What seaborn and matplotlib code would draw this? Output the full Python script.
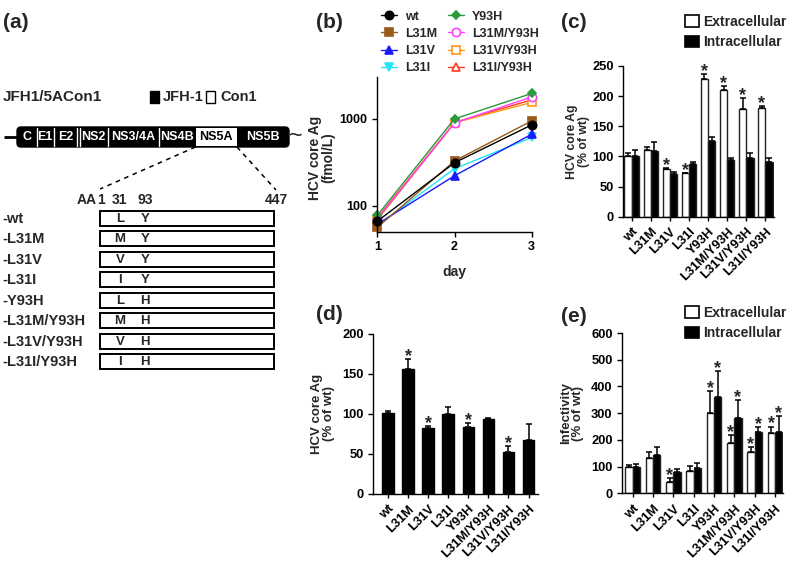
import numpy as np
import pandas as pd
import matplotlib
matplotlib.use('Agg')
import matplotlib.pyplot as plt
import seaborn as sns
from matplotlib.patches import Rectangle, FancyBboxPatch, Patch

# ---------------- data ----------------
variants = ['wt', 'L31M', 'L31V', 'L31I', 'Y93H', 'L31M/Y93H', 'L31V/Y93H', 'L31I/Y93H']

# (a) construct schematic
genome_regions = ['C', 'E1', 'E2', 'NS2', 'NS3/4A', 'NS4B', 'NS5A', 'NS5B']
residue_31 = ['L', 'M', 'V', 'I', 'L', 'M', 'V', 'I']
residue_93 = ['Y', 'Y', 'Y', 'Y', 'H', 'H', 'H', 'H']
aa_labels = ['1', '31', '93', '447']

# (b) HCV core Ag time course (fmol/L)
days = [1, 2, 3]
b_wt = [66, 310, 845]
b_L31M = [56, 325, 940]
b_L31V = [61, 220, 660]
b_L31I = [59, 265, 605]
b_Y93H = [77, 990, 1940]
b_L31M_Y93H = [70, 890, 1770]
b_L31V_Y93H = [68, 895, 1530]
b_L31I_Y93H = [72, 900, 1640]

# (c) HCV core Ag (% of wt)
c_ext = [101, 111, 79, 72, 229, 211, 179, 181]
c_ext_err = [4, 4, 1, 1, 8, 5, 18, 2]
c_int = [100, 109, 71, 88, 126, 94, 98, 90]
c_int_err = [10, 15, 3, 2, 6, 4, 7, 8]
c_ext_sig = [0, 0, 1, 1, 1, 1, 1, 1]
c_int_sig = [0, 0, 0, 0, 0, 0, 0, 0]

# (d) HCV core Ag (% of wt)
d_val = [101, 156, 82, 100, 84, 93, 52, 67]
d_err = [3, 12, 3, 8, 5, 2, 8, 20]
d_sig = [0, 1, 1, 0, 1, 0, 1, 0]

# (e) Infectivity (% of wt)
e_ext = [99, 133, 41, 84, 302, 187, 156, 224]
e_ext_err = [7, 23, 15, 19, 80, 32, 17, 26]
e_int = [99, 144, 80, 96, 362, 283, 231, 231]
e_int_err = [12, 30, 11, 16, 94, 66, 16, 57]
e_ext_sig = [0, 0, 1, 0, 1, 1, 1, 1]
e_int_sig = [0, 0, 0, 0, 1, 1, 1, 1]

# ---------------- style ----------------
sns.set_theme(style='ticks')
plt.rcParams['font.family'] = ['Liberation Sans', 'DejaVu Sans']
plt.rcParams['font.weight'] = 'bold'
plt.rcParams['axes.labelweight'] = 'bold'
plt.rcParams['axes.linewidth'] = 1.0
plt.rcParams['xtick.major.width'] = 1.0
plt.rcParams['ytick.major.width'] = 1.0
plt.rcParams['xtick.major.size'] = 3.5
plt.rcParams['ytick.major.size'] = 3.5
plt.rcParams['axes.edgecolor'] = 'black'
plt.rcParams['xtick.color'] = 'black'
plt.rcParams['ytick.color'] = 'black'

W, H = 787, 562
fig = plt.figure(figsize=(W / 100, H / 100), dpi=100)


def px_axes(l, t, r, b):
    return fig.add_axes([l / W, 1 - b / H, (r - l) / W, (b - t) / H])


def fig_xy(x, y):
    return (x / W, 1 - y / H)


# ---------------- (a) schematic ----------------
ax0 = fig.add_axes([0, 0, 1, 1])
ax0.set_xlim(0, W)
ax0.set_ylim(H, 0)
ax0.axis('off')

ax0.text(3, 22, '(a)', fontsize=15, fontweight='bold', va='center', ha='left')
ax0.text(3, 97, 'JFH1/5ACon1', fontsize=11, fontweight='bold', va='center', ha='left')
ax0.add_patch(Rectangle((150, 91), 9, 12, fc='black', ec='black', lw=1))
ax0.text(163, 97, 'JFH-1', fontsize=10.5, fontweight='bold', va='center', ha='left')
ax0.add_patch(Rectangle((206, 91), 9, 12, fc='white', ec='black', lw=1))
ax0.text(220, 97, 'Con1', fontsize=10.5, fontweight='bold', va='center', ha='left')

bounds = [17, 37, 53.5, 78.5, 107.5, 159, 195.5, 237, 289]
ytop, ybot = 127, 147
ax0.plot([4, 17], [137, 137], color='black', lw=2, solid_capstyle='butt')
ax0.add_patch(FancyBboxPatch((bounds[0], ytop), bounds[-1] - bounds[0], ybot - ytop,
                             boxstyle='round,pad=0,rounding_size=4', fc='black', ec='black', lw=1))
for i, name in enumerate(genome_regions):
    x0, x1 = bounds[i], bounds[i + 1]
    if name == 'NS5A':
        ax0.add_patch(Rectangle((x0, ytop + 1.2), x1 - x0, ybot - ytop - 2.4, fc='white', ec='none'))
        col = 'black'
    else:
        col = 'white'
    ax0.text((x0 + x1) / 2, (ytop + ybot) / 2 + 0.5, name, color=col, fontsize=9,
             fontweight='bold', ha='center', va='center')
for xb in [37, 53.5, 77.3, 80.2, 107.5, 159]:
    ax0.plot([xb, xb], [ytop + 1, ybot - 1], color='white', lw=1.0)
ax0.text(289, 137, '~', fontsize=17, fontweight='normal', va='center', ha='left')

ax0.plot([195.5, 100], [147, 189], color='black', lw=1.1, ls=(0, (3, 3)))
ax0.plot([237, 276], [147, 190], color='black', lw=1.1, ls=(0, (3, 3)))

ax0.text(97, 200, 'AA', fontsize=10, fontweight='bold', ha='right', va='center')
for lab, xx in zip(aa_labels, [100.5, 119.5, 145, 276]):
    ax0.text(xx, 200, lab, fontsize=10, fontweight='bold', ha='center', va='center')

for i, v in enumerate(variants):
    yc = 218.3 + 20.5 * i
    ax0.add_patch(Rectangle((99.5, yc - 7.5), 174, 15, fc='white', ec='black', lw=1.4))
    ax0.text(120, yc + 0.5, residue_31[i], fontsize=9.5, fontweight='bold', ha='center', va='center')
    ax0.text(145, yc + 0.5, residue_93[i], fontsize=9.5, fontweight='bold', ha='center', va='center')
    ax0.text(2, yc + 0.5, '-' + v, fontsize=10.5, fontweight='bold', ha='left', va='center')

# panel letters
for lab, (x, y) in {'(b)': (316, 22), '(c)': (561, 22), '(d)': (316, 314), '(e)': (561, 316)}.items():
    ax0.text(x, y, lab, fontsize=15, fontweight='bold', va='center', ha='left')

# ---------------- (b) line plot ----------------
axb = px_axes(377.3, 77, 531.7, 231.7)
series_b = {
    'wt': b_wt, 'L31M': b_L31M, 'L31V': b_L31V, 'L31I': b_L31I,
    'Y93H': b_Y93H, 'L31M/Y93H': b_L31M_Y93H, 'L31V/Y93H': b_L31V_Y93H, 'L31I/Y93H': b_L31I_Y93H,
}
b_style = {
    'wt': ('black', 'o', True, 6),
    'L31M': ('#9a5a1c', 's', True, 6),
    'L31V': ('#1a1aff', '^', True, 6),
    'L31I': ('#22e5f5', 'v', True, 6),
    'Y93H': ('#2a9a3a', 'D', True, 4.5),
    'L31M/Y93H': ('#ff40ff', 'o', False, 6),
    'L31V/Y93H': ('#ff9a10', 's', False, 6),
    'L31I/Y93H': ('#ff3a20', '^', False, 6),
}
df_b = pd.DataFrame([(v, d, val) for v, vals in series_b.items() for d, val in zip(days, vals)],
                    columns=['variant', 'day', 'value'])
draw_order = ['L31I/Y93H', 'L31V/Y93H', 'L31M/Y93H', 'Y93H', 'L31I', 'L31V', 'L31M', 'wt']
for v in draw_order:
    col, mk, filled, ms = b_style[v]
    sns.lineplot(data=df_b[df_b['variant'] == v], x='day', y='value', ax=axb,
                 color=col, marker=mk, markersize=ms, markeredgecolor=col,
                 markerfacecolor=col if filled else 'white', markeredgewidth=1.2,
                 linewidth=1.0, label=v, errorbar=None, clip_on=False)
axb.set_yscale('log')
axb.set_ylim(50, 3000)
axb.set_xlim(1, 3)
axb.set_xticks(days)
axb.set_yticks([100, 1000])
axb.set_yticklabels(['100', '1000'])
axb.minorticks_off()
axb.tick_params(labelsize=9)
axb.set_xlabel('day', fontsize=10, fontweight='bold', labelpad=8)
axb.set_ylabel('HCV core Ag\n(fmol/L)', fontsize=10, fontweight='bold', linespacing=1.0)
axb.yaxis.set_label_coords(-0.27, 0.48)
sns.despine(ax=axb)
hl, ll = axb.get_legend_handles_labels()
hmap = dict(zip(ll, hl))
axb.legend([hmap[v] for v in variants], variants, ncol=2, frameon=False,
           loc='upper left', bbox_to_anchor=fig_xy(381, 10.5), bbox_transform=fig.transFigure,
           borderpad=0, borderaxespad=0, prop={'weight': 'bold', 'size': 9},
           handlelength=1.3, handletextpad=0.6, columnspacing=0.9, labelspacing=0.42)


# ---------------- bar helpers ----------------
def add_err_and_stars(ax, container, errs, sigs, star_size=13):
    xs = [p.get_x() + p.get_width() / 2 for p in container.patches]
    ys = [p.get_height() for p in container.patches]
    ax.errorbar(xs, ys, yerr=[np.zeros(len(errs)), errs], fmt='none', ecolor='black',
                elinewidth=1.1, capsize=2.2, capthick=1.1, zorder=3)
    for x, y, e, s in zip(xs, ys, errs, sigs):
        if s:
            ax.annotate('*', xy=(x, y + e), xytext=(0, -1.5), textcoords='offset points',
                        ha='center', va='baseline', fontsize=star_size, fontweight='bold')


def style_bar_axes(ax, ylim, yticks, ylabel, label_x, label_size):
    ax.set_ylim(*ylim)
    ax.set_yticks(yticks)
    ax.tick_params(axis='y', labelsize=9.3)
    ax.tick_params(axis='x', labelsize=9.3, length=3)
    for lab in ax.get_xticklabels():
        lab.set_rotation(45)
        lab.set_ha('right')
        lab.set_rotation_mode('anchor')
        lab.set_fontweight('bold')
    ax.set_xlabel('')
    ax.set_ylabel(ylabel, fontsize=label_size, fontweight='bold', linespacing=1.0)
    ax.yaxis.set_label_coords(label_x, 0.5)
    sns.despine(ax=ax)


pal = {'Extracellular': 'white', 'Intracellular': 'black'}
leg_handles = [Patch(fc='white', ec='black', lw=1.2), Patch(fc='black', ec='black', lw=1.2)]

# ---------------- (c) ----------------
axc = px_axes(623.3, 66, 774, 216.7)
df_c = pd.DataFrame({'variant': variants * 2,
                     'type': ['Extracellular'] * 8 + ['Intracellular'] * 8,
                     'value': c_ext + c_int})
sns.barplot(data=df_c, x='variant', y='value', hue='type', order=variants,
            hue_order=['Extracellular', 'Intracellular'], palette=pal, saturation=1,
            edgecolor='#222222', linewidth=1.0, width=0.76, errorbar=None, ax=axc, legend=False)
add_err_and_stars(axc, axc.containers[0], c_ext_err, c_ext_sig)
add_err_and_stars(axc, axc.containers[1], c_int_err, c_int_sig)
axc.set_xlim(-0.44, 7.45)
style_bar_axes(axc, (0, 250), [0, 50, 100, 150, 200, 250], 'HCV core Ag\n(% of wt)', -0.22, 8.8)
axc.legend(leg_handles, ['Extracellular', 'Intracellular'], frameon=False, loc='upper left',
           bbox_to_anchor=fig_xy(685, 15), bbox_transform=fig.transFigure, borderpad=0,
           borderaxespad=0, prop={'weight': 'bold', 'size': 10}, handlelength=1.0,
           handleheight=0.9, handletextpad=0.3, labelspacing=0.45)

# ---------------- (d) ----------------
axd = px_axes(373.3, 333.5, 538, 494)
df_d = pd.DataFrame({'variant': variants, 'value': d_val})
sns.barplot(data=df_d, x='variant', y='value', order=variants, color='black', saturation=1,
            edgecolor='black', linewidth=1.0, width=0.57, errorbar=None, ax=axd)
add_err_and_stars(axd, axd.containers[0], d_err, d_sig)
axd.set_xlim(-0.73, 7.47)
style_bar_axes(axd, (0, 200), [0, 50, 100, 150, 200], 'HCV core Ag\n(% of wt)', -0.235, 9.5)

# ---------------- (e) ----------------
axe = px_axes(622.3, 333, 782.5, 493.3)
df_e = pd.DataFrame({'variant': variants * 2,
                     'type': ['Extracellular'] * 8 + ['Intracellular'] * 8,
                     'value': e_ext + e_int})
sns.barplot(data=df_e, x='variant', y='value', hue='type', order=variants,
            hue_order=['Extracellular', 'Intracellular'], palette=pal, saturation=1,
            edgecolor='#222222', linewidth=1.0, width=0.72, errorbar=None, ax=axe, legend=False)
add_err_and_stars(axe, axe.containers[0], e_ext_err, e_ext_sig)
add_err_and_stars(axe, axe.containers[1], e_int_err, e_int_sig)
axe.set_xlim(-0.51, 7.37)
style_bar_axes(axe, (0, 600), [0, 100, 200, 300, 400, 500, 600], 'Infectivity\n(% of wt)', -0.24, 9.5)
axe.legend(leg_handles, ['Extracellular', 'Intracellular'], frameon=False, loc='upper left',
           bbox_to_anchor=fig_xy(685, 306), bbox_transform=fig.transFigure, borderpad=0,
           borderaxespad=0, prop={'weight': 'bold', 'size': 10}, handlelength=1.0,
           handleheight=0.9, handletextpad=0.3, labelspacing=0.45)

fig.savefig('out.png', dpi=100)
